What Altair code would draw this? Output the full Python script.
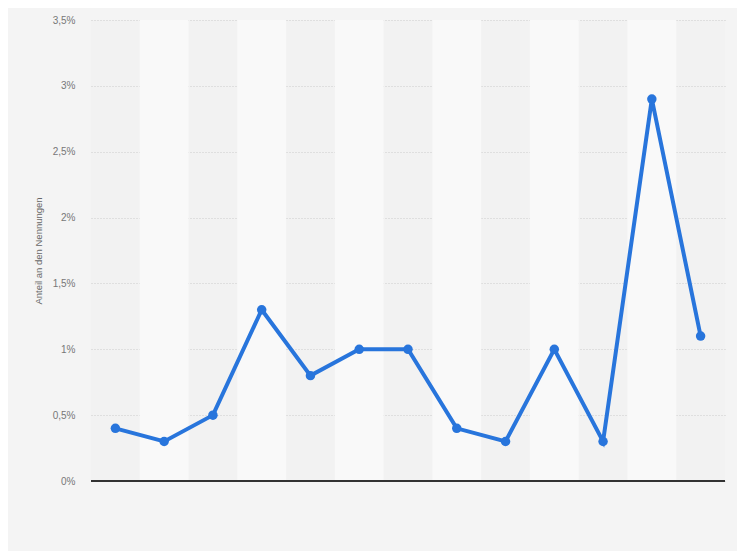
import altair as alt
import pandas as pd

categories = [f"K{i+1:02d}" for i in range(13)]
values = [0.4, 0.3, 0.5, 1.3, 0.8, 1.0, 1.0, 0.4, 0.3, 1.0, 0.3, 2.9, 1.1]
y_ticks = [0, 0.5, 1, 1.5, 2, 2.5, 3, 3.5]

df = pd.DataFrame({"cat": categories, "val": values})
bands = pd.DataFrame({"cat": [c for i, c in enumerate(categories) if i % 2 == 1],
                      "y0": 0.0, "y1": 3.5})

xscale = alt.Scale(domain=categories, paddingInner=0, paddingOuter=0)
yscale = alt.Scale(domain=[0, 3.5], nice=False)
label_expr = "replace(format(datum.value, '.1~f'), '.', ',') + '%'"

yaxis = alt.Axis(values=y_ticks, labelExpr=label_expr,
                 title="Anteil an den Nennungen",
                 titleFontSize=9.5, titleColor="#666666", titleFontWeight="normal",
                 titleFont="Arial, Liberation Sans, sans-serif",
                 titlePadding=9,
                 labelFontSize=10, labelColor="#777777",
                 labelFont="Arial, Liberation Sans, sans-serif",
                 labelPadding=16,
                 grid=True, gridColor="#cccccc", gridDash=[1, 2], gridWidth=1,
                 domain=False, ticks=False)

band_layer = alt.Chart(bands).mark_rect(color="#f9f9f9").encode(
    x=alt.X("cat:N", scale=xscale, axis=None),
    y=alt.Y("y0:Q", scale=yscale, axis=yaxis),
    y2="y1:Q",
)

line_layer = alt.Chart(df).mark_line(
    color="#2875dc", strokeWidth=4,
    point=alt.OverlayMarkDef(color="#2875dc", size=90, filled=True, opacity=1),
).encode(
    x=alt.X("cat:N", scale=xscale, axis=None, sort=categories),
    y=alt.Y("val:Q", scale=yscale, axis=yaxis),
)

base_layer = alt.Chart(df).mark_rule(color="#333333", strokeWidth=1.5).encode(
    y=alt.value(461),
    x=alt.value(0), x2=alt.value(634),
)

chart = alt.layer(band_layer, line_layer, base_layer).properties(
    width=634, height=461,
    autosize=alt.AutoSizeParams(type="none"),
    padding={"left": 83, "top": 12, "right": 12, "bottom": 70},
    background="#f4f4f4",
).configure_view(stroke=None, fill="#f2f2f2")

chart.save("out.html", embed_options={"renderer": "svg", "actions": False})
